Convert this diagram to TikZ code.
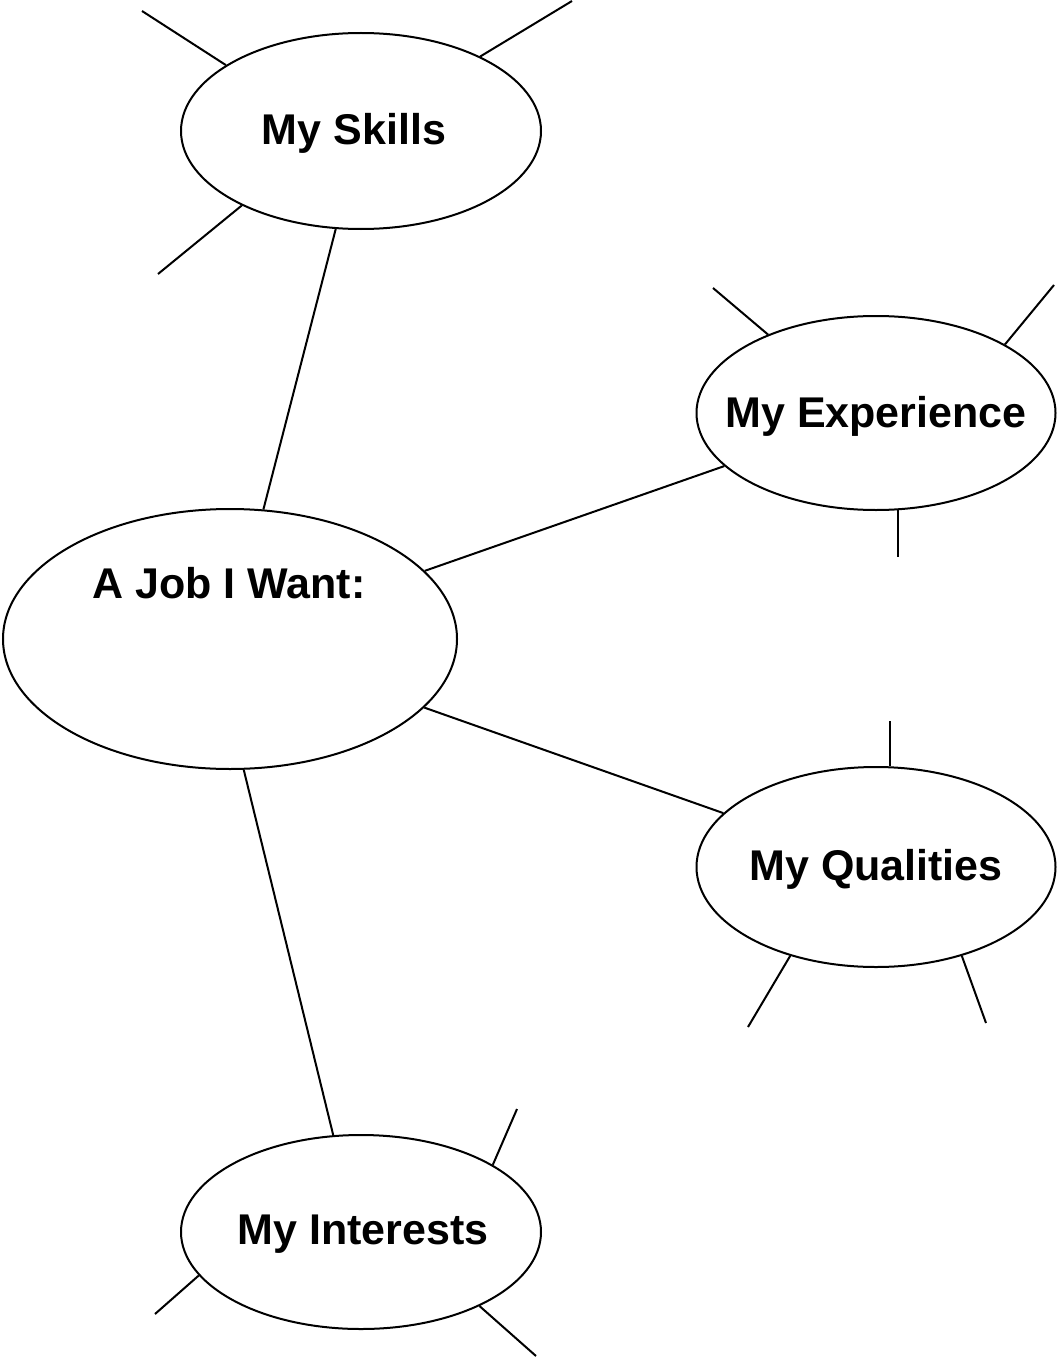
\documentclass[tikz,border=0pt]{standalone}
\usepackage{fontspec}
\setmainfont{Liberation Sans}
\usetikzlibrary{shapes.geometric}
\begin{document}
\begin{tikzpicture}[x=1pt,y=-1pt,
  bubble/.style={ellipse,draw,line width=2pt,inner sep=0pt},
  lbl/.style={font=\fontsize{43}{50}\selectfont\bfseries,inner sep=0pt},
  link/.style={line width=2pt}]
\useasboundingbox (0,0) rectangle (1058,1359);
% ellipses
\node[bubble,minimum width=360pt,minimum height=196pt] (skills) at (361,131) {};
\node[bubble,minimum width=359pt,minimum height=194pt] (exper) at (876,413) {};
\node[bubble,minimum width=454pt,minimum height=260pt] (job) at (230,639) {};
\node[bubble,minimum width=359pt,minimum height=200pt] (qual) at (876,867) {};
\node[bubble,minimum width=360pt,minimum height=194pt] (inter) at (361,1232) {};
% labels
\node[lbl] (tskills) at (354,133) {My Skills};
\node[lbl] (texper) at (876,416) {My Experience};
\node[lbl] (tjob) at (229,583) {A Job I Want:};
\node[lbl] (tqual) at (876,869) {My Qualities};
\node[lbl] (tinter) at (363,1234) {My Interests};
% connectors
\draw[link] (skills) -- (job);
\draw[link] (job) -- (exper);
\draw[link] (job) -- (qual);
\draw[link] (job.-84.3) -- (inter.106.4);
% spokes
\coordinate (s1) at (142,11);
\coordinate (s2) at (572,1);
\coordinate (s3) at (158,274);
\coordinate (e1) at (713,288);
\coordinate (e2) at (1054,285);
\coordinate (e3) at (exper.-77.2 |- 0,557);
\coordinate (q1) at (qual.82.9 |- 0,721);
\coordinate (q2) at (748,1027);
\coordinate (q3) at (986,1023);
\coordinate (i1) at (517,1109);
\coordinate (i2) at (155,1314);
\coordinate (i3) at (536,1356);
\draw[link] (skills.154.3) -- (s1);
\draw[link] (skills.32.1) -- (s2);
\draw[link] (skills.212.6) -- (s3);
\draw[link] (exper.144.7) -- (e1);
\draw[link] (exper.28.9) -- (e2);
\draw[link] (exper.-77.2) -- (e3);
\draw[link] (qual.82.9) -- (q1);
\draw[link] (qual.226) -- (q2);
\draw[link] (qual.-46.6) -- (q3);
\draw[link] (inter.27.4) -- (i1);
\draw[link] (inter.195.4) -- (i2);
\draw[link] (inter.-32.7) -- (i3);
\end{tikzpicture}
\end{document}
